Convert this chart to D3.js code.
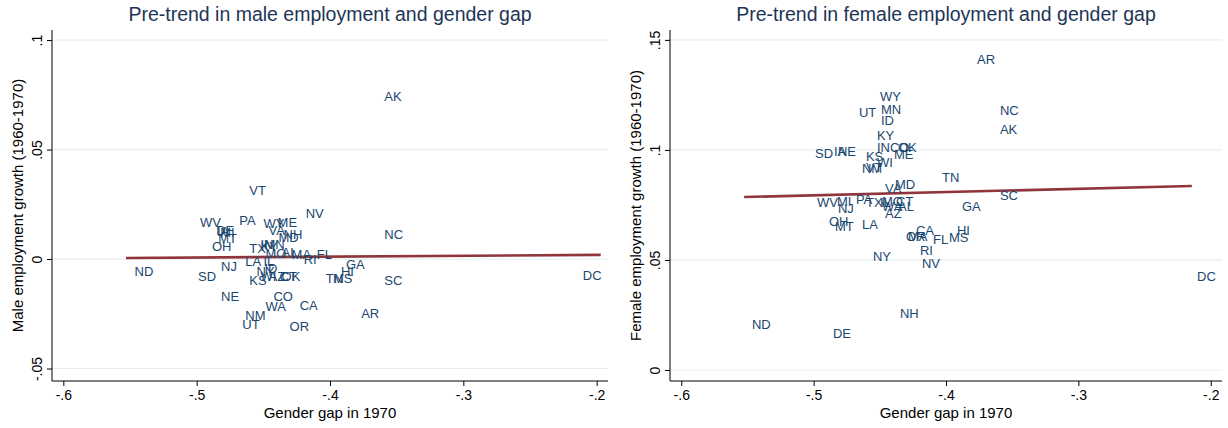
<!DOCTYPE html>
<html>
<head>
<meta charset="utf-8">
<script src="https://cdn.jsdelivr.net/npm/d3@7"></script>
<style>
  html, body { margin: 0; padding: 0; background: #fff; }
  svg { display: block; font-family: "Liberation Sans", Arial, sans-serif; }
</style>
</head>
<body>
<svg id="chart" width="1228" height="428"></svg>
<script>
// ---- data ----
const states = ["AL","AK","AZ","AR","CA","CO","CT","DE","DC","FL","GA","HI","ID","IL","IN","IA","KS","KY","LA","ME","MD","MA","MI","MN","MS","MO","MT","NE","NV","NH","NJ","NM","NY","NC","ND","OH","OK","OR","PA","RI","SC","SD","TN","TX","UT","VT","VA","WA","WV","WI","WY"];
const genderGap1970 = [-0.4408,-0.3638,-0.4506,-0.3811,-0.4272,-0.4469,-0.4423,-0.4899,-0.2149,-0.4144,-0.3925,-0.3963,-0.4537,-0.4544,-0.4567,-0.4892,-0.4650,-0.4567,-0.4680,-0.4438,-0.4431,-0.4333,-0.4869,-0.4537,-0.4023,-0.4529,-0.4884,-0.4862,-0.4227,-0.4393,-0.4862,-0.4680,-0.4597,-0.3638,-0.5511,-0.4930,-0.4408,-0.4348,-0.4726,-0.4242,-0.3638,-0.5035,-0.4076,-0.4650,-0.4703,-0.4650,-0.4506,-0.4529,-0.5020,-0.4567,-0.4544];
const maleGrowth = [0.0032,0.0744,-0.0078,-0.0247,-0.0210,-0.0169,-0.0078,0.0132,-0.0073,0.0023,-0.0023,-0.0059,-0.0041,-0.0009,0.0068,0.0128,-0.0100,0.0059,-0.0009,0.0169,0.0100,0.0023,0.0119,0.0068,-0.0091,0.0027,0.0096,-0.0169,0.0210,0.0114,-0.0032,-0.0260,-0.0055,0.0110,-0.0059,0.0055,-0.0078,-0.0306,0.0178,0.0000,-0.0100,-0.0078,-0.0091,0.0046,-0.0301,0.0311,0.0132,-0.0215,0.0169,-0.0082,0.0164];
const femaleGrowth = [0.0745,0.1091,0.0709,0.1409,0.0636,0.1009,0.0764,0.0168,0.0423,0.0591,0.0741,0.0632,0.1132,0.0759,0.1009,0.0991,0.0968,0.1064,0.0659,0.0977,0.0845,0.0605,0.0764,0.1186,0.0600,0.0764,0.0650,0.0991,0.0482,0.0255,0.0732,0.0914,0.0514,0.1177,0.0209,0.0673,0.1009,0.0605,0.0773,0.0541,0.0791,0.0986,0.0873,0.0759,0.1168,0.0918,0.0823,0.0741,0.0759,0.0941,0.1241];

// fitted lines (endpoints)
const maleFitX = [-0.5530, -0.1970];
const maleFitY = [0.0005, 0.0019];
const femaleFitX = [-0.5525, -0.2143];
const femaleFitY = [0.0786, 0.0836];

// tick values and labels
const xTicks = [-0.6, -0.5, -0.4, -0.3, -0.2];
const xTickLabels = ["-.6", "-.5", "-.4", "-.3", "-.2"];
const maleYTicks = [-0.05, 0, 0.05, 0.1];
const maleYTickLabels = ["-.05", "0", ".05", ".1"];
const femaleYTicks = [0, 0.05, 0.1, 0.15];
const femaleYTickLabels = ["0", ".05", ".1", ".15"];

const titles = ["Pre-trend in male employment and gender gap", "Pre-trend in female employment and gender gap"];
const yTitles = ["Male employment growth (1960-1970)", "Female employment growth (1960-1970)"];
const xTitle = "Gender gap in 1970";

// ---- drawing ----
const svg = d3.select("#chart");
const labelColor = "#1a476f";
const fitColor = "#90353b";
const gridColor = "#e7eff1";

const panels = [
  { x0: 52, x1: 608, yDomain: [-0.0557, 0.1046], yVals: maleGrowth, yTicks: maleYTicks, yLabels: maleYTickLabels, fitX: maleFitX, fitY: maleFitY, title: titles[0], yTitle: yTitles[0] },
  { x0: 670, x1: 1222, yDomain: [-0.005, 0.1545], yVals: femaleGrowth, yTicks: femaleYTicks, yLabels: femaleYTickLabels, fitX: femaleFitX, fitY: femaleFitY, title: titles[1], yTitle: yTitles[1] }
];

const plotTop = 30, plotBottom = 381;

panels.forEach(p => {
  const g = svg.append("g");
  const x = d3.scaleLinear().domain([-0.6085, -0.1915]).range([p.x0, p.x1]);
  const y = d3.scaleLinear().domain(p.yDomain).range([plotBottom, plotTop]);

  // gridlines
  g.selectAll("line.grid").data(p.yTicks).enter().append("line")
    .attr("x1", p.x0).attr("x2", p.x1)
    .attr("y1", d => y(d)).attr("y2", d => y(d))
    .attr("stroke", gridColor).attr("stroke-width", 1.2);

  // x axis
  const xAxis = d3.axisBottom(x).tickValues(xTicks)
    .tickFormat((d, i) => xTickLabels[i]).tickSize(5).tickPadding(4).tickSizeOuter(0);
  const gx = g.append("g").attr("transform", `translate(0,${plotBottom})`).call(xAxis);
  gx.select(".domain").attr("stroke", "#000").attr("d", `M${p.x0},0H${p.x1}`);
  gx.selectAll(".tick line").attr("stroke", "#000");
  gx.selectAll(".tick text").attr("fill", "#000").attr("font-size", 14)
    .attr("font-family", "Liberation Sans, Arial, sans-serif");

  // y axis
  const yAxis = d3.axisLeft(y).tickValues(p.yTicks)
    .tickFormat((d, i) => p.yLabels[i]).tickSize(5).tickPadding(4).tickSizeOuter(0);
  const gy = g.append("g").attr("transform", `translate(${p.x0},0)`).call(yAxis);
  gy.select(".domain").attr("stroke", "#000").attr("d", `M0,${plotTop}V${plotBottom}`);
  gy.selectAll(".tick line").attr("stroke", "#000");
  gy.selectAll(".tick text")
    .attr("fill", "#000").attr("font-size", 14)
    .attr("font-family", "Liberation Sans, Arial, sans-serif")
    .attr("x", null).attr("dy", null)
    .attr("text-anchor", "middle")
    .attr("dominant-baseline", "central")
    .attr("transform", "translate(-15,0) rotate(-90)");

  // fit line
  const line = d3.line().x(d => x(d[0])).y(d => y(d[1]));
  g.append("path")
    .datum(p.fitX.map((v, i) => [v, p.fitY[i]]))
    .attr("d", line)
    .attr("fill", "none").attr("stroke", fitColor).attr("stroke-width", 2.6);

  // state labels
  g.selectAll("text.state").data(states).enter().append("text")
    .attr("class", "state")
    .attr("x", (d, i) => x(genderGap1970[i]) + 6)
    .attr("y", (d, i) => y(p.yVals[i]))
    .attr("dominant-baseline", "central")
    .attr("font-size", 13)
    .attr("fill", labelColor)
    .text(d => d);

  // titles
  const cx = (p.x0 + p.x1) / 2;
  g.append("text").attr("x", cx).attr("y", 21)
    .attr("text-anchor", "middle").attr("font-size", 19.5).attr("fill", "#1e3557")
    .text(p.title);
  g.append("text").attr("x", cx).attr("y", 418)
    .attr("text-anchor", "middle").attr("font-size", 15).attr("fill", "#000")
    .text(xTitle);
  g.append("text")
    .attr("transform", `translate(${p.x0 - 35},${(plotTop + plotBottom) / 2}) rotate(-90)`)
    .attr("text-anchor", "middle").attr("dominant-baseline", "central")
    .attr("font-size", 15).attr("fill", "#000")
    .text(p.yTitle);
});
</script>
</body>
</html>
